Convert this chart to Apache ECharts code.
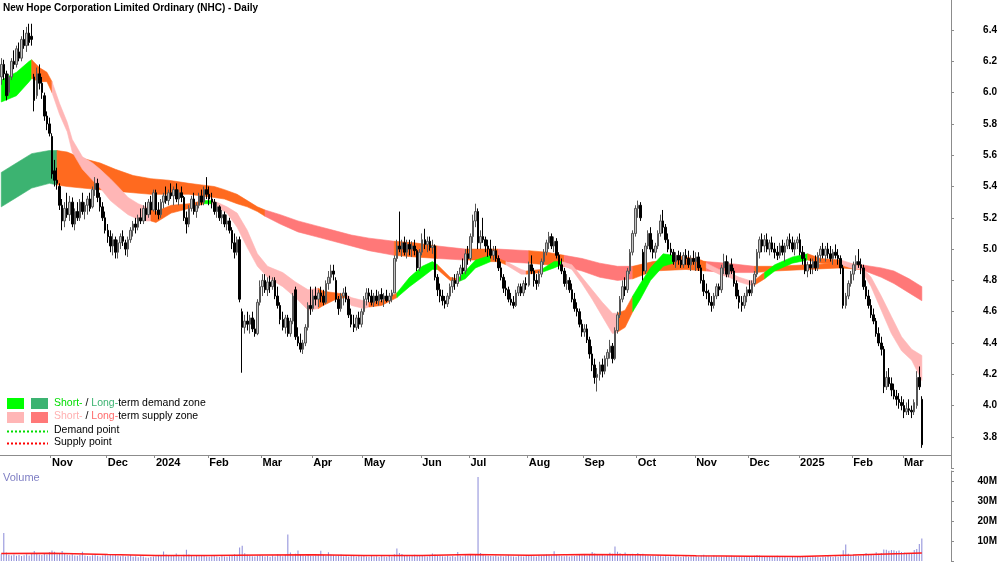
<!DOCTYPE html>
<html>
<head>
<meta charset="utf-8">
<script src="https://cdn.jsdelivr.net/npm/echarts/dist/echarts.min.js"></script>
<style>
html, body { margin: 0; padding: 0; background: #fff; }
#chart { width: 1000px; height: 562px; }
</style>
</head>
<body>
<div id="chart"></div>
<script>
// trading days per month, first (partial) month has no label
const months = [
  ['', 20], ['Nov', 22], ['Dec', 19], ['2024', 21], ['Feb', 21], ['Mar', 20], ['Apr', 20],
  ['May', 23], ['Jun', 19], ['Jul', 23], ['Aug', 22], ['Sep', 21], ['Oct', 23], ['Nov', 21],
  ['Dec', 20], ['2025', 21], ['Feb', 20], ['Mar', 8]
];
const padBars = 11;

// daily bars [open, high, low, close]
const bars = [
  // Oct 23
  [6.10,6.22,6.05,6.18],[6.18,6.21,6.08,6.12],[6.12,6.14,5.95,5.98],[6.00,6.12,5.98,6.10],[6.10,6.22,6.08,6.20],
  [6.20,6.27,6.15,6.18],[6.18,6.30,6.16,6.28],[6.26,6.32,6.20,6.22],[6.22,6.36,6.20,6.34],[6.34,6.40,6.28,6.30],
  [6.30,6.42,6.26,6.38],[6.38,6.44,6.30,6.32],[6.36,6.44,6.30,6.34],[6.10,6.12,5.88,5.95],[5.98,6.16,5.96,6.12],
  [6.12,6.18,6.02,6.06],[6.06,6.10,5.96,6.00],[5.98,6.00,5.82,5.85],[5.85,5.88,5.76,5.80],[5.80,5.84,5.72,5.74],
  // Nov
  [5.72,5.74,5.45,5.48],[5.50,5.57,5.40,5.44],[5.44,5.52,5.38,5.42],[5.40,5.42,5.25,5.28],[5.28,5.32,5.12,5.18],
  [5.18,5.30,5.14,5.26],[5.26,5.36,5.20,5.22],[5.22,5.34,5.18,5.30],[5.30,5.33,5.14,5.16],[5.16,5.26,5.12,5.24],
  [5.24,5.30,5.18,5.20],[5.20,5.32,5.18,5.30],[5.30,5.36,5.22,5.24],[5.24,5.30,5.19,5.28],[5.28,5.34,5.22,5.32],
  [5.32,5.36,5.24,5.26],[5.27,5.40,5.26,5.38],[5.38,5.46,5.34,5.42],[5.42,5.45,5.30,5.33],[5.33,5.36,5.24,5.27],
  [5.27,5.30,5.18,5.20],[5.20,5.24,5.10,5.12],
  // Dec
  [5.12,5.16,5.04,5.08],[5.08,5.12,4.98,5.02],[5.02,5.10,4.96,5.06],[5.06,5.08,4.94,4.98],[4.98,5.06,4.94,5.04],
  [5.04,5.10,5.00,5.08],[5.08,5.12,5.02,5.05],[5.04,5.06,4.96,5.00],[5.00,5.08,4.95,5.06],[5.06,5.14,5.04,5.12],
  [5.12,5.18,5.08,5.16],[5.16,5.20,5.10,5.14],[5.14,5.22,5.12,5.20],[5.20,5.26,5.16,5.18],[5.18,5.28,5.16,5.26],
  [5.26,5.30,5.18,5.22],[5.22,5.32,5.20,5.30],[5.30,5.34,5.22,5.25],[5.25,5.38,5.24,5.36],
  // Jan 24
  [5.36,5.38,5.22,5.25],[5.25,5.30,5.19,5.22],[5.22,5.32,5.20,5.30],[5.30,5.36,5.26,5.34],[5.34,5.40,5.29,5.31],
  [5.31,5.38,5.28,5.36],[5.36,5.42,5.32,5.34],[5.34,5.40,5.28,5.38],[5.38,5.42,5.30,5.32],[5.32,5.38,5.28,5.36],
  [5.36,5.40,5.30,5.33],[5.33,5.34,5.18,5.20],[5.20,5.24,5.10,5.16],[5.16,5.28,5.14,5.26],[5.26,5.34,5.24,5.32],
  [5.32,5.36,5.22,5.24],[5.24,5.30,5.20,5.28],[5.28,5.36,5.26,5.34],[5.34,5.38,5.28,5.30],[5.30,5.40,5.28,5.38],
  [5.38,5.46,5.32,5.35],
  // Feb
  [5.35,5.40,5.28,5.32],[5.32,5.36,5.26,5.30],[5.30,5.32,5.22,5.24],[5.24,5.30,5.20,5.27],[5.27,5.28,5.18,5.20],
  [5.20,5.25,5.16,5.22],[5.22,5.24,5.14,5.16],[5.16,5.22,5.12,5.18],[5.18,5.20,5.10,5.12],[5.12,5.14,5.00,5.04],
  [5.04,5.10,4.94,4.98],[4.98,5.08,4.96,5.06],[5.06,5.08,4.66,4.68],[4.60,4.62,4.21,4.50],[4.50,4.58,4.46,4.54],
  [4.54,4.60,4.48,4.52],[4.52,4.58,4.46,4.56],[4.56,4.60,4.47,4.49],[4.49,4.55,4.44,4.46],[4.46,4.68,4.45,4.66],
  [4.66,4.80,4.64,4.76],
  // Mar
  [4.76,4.84,4.70,4.80],[4.80,4.84,4.72,4.74],[4.74,4.82,4.70,4.79],[4.79,4.83,4.72,4.76],[4.76,4.82,4.74,4.80],
  [4.80,4.82,4.68,4.70],[4.70,4.76,4.62,4.64],[4.64,4.66,4.52,4.55],[4.55,4.60,4.48,4.50],[4.50,4.58,4.46,4.56],
  [4.56,4.58,4.44,4.46],[4.46,4.56,4.44,4.54],[4.54,4.72,4.52,4.70],[4.74,4.76,4.42,4.44],[4.44,4.50,4.38,4.40],
  [4.40,4.46,4.34,4.36],[4.36,4.42,4.33,4.40],[4.40,4.52,4.38,4.50],[4.50,4.66,4.48,4.64],[4.64,4.76,4.58,4.62],
  // Apr
  [4.62,4.74,4.60,4.70],[4.70,4.76,4.64,4.68],[4.68,4.74,4.63,4.72],[4.72,4.76,4.66,4.70],[4.70,4.74,4.64,4.66],
  [4.66,4.80,4.65,4.78],[4.78,4.86,4.74,4.82],[4.82,4.90,4.78,4.86],[4.86,4.90,4.80,4.84],[4.80,4.82,4.66,4.68],
  [4.68,4.70,4.58,4.62],[4.62,4.72,4.60,4.70],[4.70,4.75,4.64,4.72],[4.72,4.76,4.66,4.68],[4.68,4.70,4.56,4.58],
  [4.58,4.62,4.50,4.52],[4.52,4.58,4.47,4.50],[4.50,4.58,4.48,4.56],[4.56,4.60,4.49,4.52],[4.52,4.62,4.50,4.60],
  // May
  [4.60,4.70,4.58,4.68],[4.68,4.75,4.64,4.72],[4.72,4.75,4.66,4.70],[4.70,4.74,4.64,4.66],[4.66,4.72,4.63,4.70],
  [4.70,4.74,4.65,4.67],[4.67,4.73,4.64,4.71],[4.71,4.75,4.66,4.68],[4.68,4.72,4.63,4.70],[4.70,4.74,4.66,4.67],
  [4.67,4.72,4.65,4.70],[4.70,4.74,4.66,4.72],[4.72,4.96,4.72,4.94],[4.94,5.06,4.92,5.02],[5.02,5.24,4.98,5.00],
  [5.00,5.06,4.95,5.04],[5.04,5.08,4.96,4.98],[4.98,5.06,4.94,5.03],[5.03,5.06,4.96,5.00],[5.00,5.05,4.95,5.02],
  [5.02,5.06,4.96,4.99],[4.99,5.00,4.86,4.88],[4.88,5.00,4.86,4.98],
  // Jun
  [4.98,5.10,4.96,5.06],[5.06,5.13,5.00,5.03],[5.03,5.08,4.98,5.05],[5.05,5.08,4.99,5.01],[5.01,5.06,4.97,5.02],
  [5.02,5.03,4.80,4.82],[4.82,4.84,4.70,4.74],[4.74,4.78,4.66,4.70],[4.70,4.74,4.64,4.67],[4.67,4.70,4.62,4.65],
  [4.65,4.72,4.63,4.70],[4.70,4.78,4.68,4.76],[4.76,4.82,4.72,4.80],[4.80,4.84,4.74,4.78],[4.78,4.86,4.76,4.84],
  [4.84,4.90,4.80,4.88],[4.88,4.94,4.84,4.86],[4.86,5.00,4.84,4.97],[4.97,5.02,4.90,4.94],
  // Jul
  [4.94,5.10,4.92,5.08],[5.08,5.22,5.04,5.18],[5.18,5.29,5.14,5.24],[5.24,5.26,5.00,5.04],[5.04,5.12,5.00,5.08],
  [5.08,5.20,5.04,5.06],[5.06,5.08,4.98,5.02],[5.02,5.06,4.95,5.00],[5.00,5.06,4.94,4.96],[4.96,5.02,4.93,4.99],
  [4.99,5.02,4.92,4.94],[4.94,4.96,4.86,4.88],[4.88,4.92,4.80,4.82],[4.82,4.84,4.72,4.75],[4.75,4.80,4.70,4.74],
  [4.74,4.76,4.66,4.68],[4.68,4.72,4.64,4.66],[4.66,4.70,4.62,4.64],[4.64,4.74,4.63,4.72],[4.72,4.78,4.70,4.76],
  [4.76,4.78,4.70,4.72],[4.72,4.80,4.70,4.78],[4.78,4.82,4.74,4.77],
  // Aug
  [4.77,4.92,4.76,4.90],[4.90,4.96,4.84,4.86],[4.86,4.88,4.76,4.80],[4.80,4.84,4.74,4.78],[4.78,4.86,4.76,4.84],
  [4.84,4.94,4.82,4.92],[4.92,5.00,4.90,4.98],[4.98,5.06,4.96,5.04],[5.04,5.11,5.00,5.08],[5.08,5.10,5.00,5.02],
  [5.02,5.08,4.98,5.05],[5.05,5.07,4.94,4.96],[4.96,4.98,4.87,4.90],[4.90,4.94,4.84,4.86],[4.86,4.88,4.76,4.78],
  [4.78,4.84,4.74,4.80],[4.80,4.82,4.72,4.74],[4.74,4.78,4.66,4.68],[4.68,4.72,4.60,4.62],[4.62,4.66,4.57,4.60],
  [4.60,4.62,4.50,4.52],[4.52,4.55,4.44,4.47],
  // Sep
  [4.47,4.52,4.44,4.49],[4.49,4.52,4.40,4.42],[4.42,4.44,4.30,4.33],[4.33,4.38,4.22,4.26],[4.26,4.30,4.14,4.18],
  [4.18,4.24,4.09,4.20],[4.20,4.28,4.16,4.26],[4.26,4.30,4.18,4.22],[4.22,4.32,4.20,4.30],[4.30,4.36,4.25,4.34],
  [4.34,4.42,4.30,4.38],[4.38,4.40,4.27,4.30],[4.30,4.50,4.29,4.48],[4.48,4.60,4.46,4.58],[4.58,4.70,4.56,4.68],
  [4.68,4.80,4.66,4.76],[4.76,4.82,4.70,4.74],[4.74,4.88,4.72,4.86],[4.86,5.00,4.84,4.98],[4.98,5.12,4.96,5.10],
  [5.10,5.28,5.08,5.26],
  // Oct
  [5.26,5.31,5.20,5.28],[5.28,5.30,5.18,5.20],[4.98,5.00,4.80,4.86],[4.86,5.04,4.84,5.02],[5.02,5.12,5.00,5.10],
  [5.10,5.14,4.98,5.00],[5.00,5.06,4.94,4.98],[4.98,5.04,4.94,5.02],[5.02,5.12,5.00,5.10],[5.10,5.22,5.08,5.18],
  [5.18,5.25,5.10,5.14],[5.14,5.16,5.04,5.06],[5.06,5.10,4.98,5.00],[5.00,5.04,4.96,4.98],[4.98,5.00,4.90,4.92],
  [4.92,4.98,4.88,4.96],[4.96,4.99,4.90,4.93],[4.93,4.98,4.88,4.90],[4.90,4.98,4.88,4.96],[4.96,5.00,4.90,4.94],
  [4.94,4.99,4.88,4.90],[4.90,4.96,4.86,4.94],[4.94,4.99,4.90,4.92],
  // Nov
  [4.92,4.98,4.86,4.95],[4.95,4.98,4.86,4.88],[4.88,4.90,4.78,4.80],[4.80,4.84,4.70,4.73],[4.73,4.78,4.68,4.72],
  [4.72,4.74,4.64,4.66],[4.66,4.70,4.60,4.64],[4.64,4.72,4.62,4.70],[4.70,4.78,4.68,4.76],[4.76,4.78,4.70,4.74],
  [4.74,4.90,4.72,4.88],[4.88,4.97,4.84,4.92],[4.92,4.96,4.82,4.84],[4.84,4.92,4.82,4.90],[4.90,4.94,4.84,4.86],
  [4.86,4.88,4.76,4.78],[4.78,4.80,4.68,4.70],[4.70,4.74,4.62,4.66],[4.66,4.70,4.60,4.64],[4.64,4.72,4.62,4.70],
  [4.70,4.76,4.66,4.74],
  // Dec
  [4.74,4.80,4.70,4.72],[4.72,4.80,4.70,4.78],[4.78,4.86,4.76,4.84],[4.84,5.00,4.82,4.98],[4.98,5.08,4.94,5.06],
  [5.06,5.10,4.98,5.02],[5.02,5.09,4.98,5.06],[5.06,5.10,4.98,5.00],[5.00,5.06,4.96,5.04],[5.04,5.08,4.98,5.00],
  [5.00,5.04,4.94,4.98],[4.98,5.02,4.93,4.96],[4.96,5.04,4.94,5.02],[5.02,5.06,4.96,4.98],[4.98,5.04,4.92,5.02],
  [5.02,5.08,5.00,5.06],[5.06,5.10,5.00,5.04],[5.04,5.08,4.98,5.00],[5.00,5.06,4.96,5.04],[5.04,5.08,5.00,5.06],
  // Jan 25
  [5.06,5.10,4.96,4.98],[4.98,5.02,4.90,4.94],[4.94,4.98,4.84,4.86],[4.86,4.92,4.82,4.90],[4.90,4.94,4.84,4.88],
  [4.88,4.94,4.84,4.92],[4.92,4.96,4.86,4.88],[4.88,4.98,4.86,4.96],[4.96,5.02,4.92,5.00],[5.00,5.04,4.94,4.96],
  [4.96,5.02,4.92,5.00],[5.00,5.04,4.94,4.97],[4.97,5.02,4.92,4.94],[4.94,5.00,4.90,4.98],[4.98,5.03,4.94,4.96],
  [4.96,5.00,4.90,4.94],[4.94,4.96,4.84,4.88],[4.88,4.90,4.62,4.64],[4.64,4.72,4.62,4.70],[4.70,4.80,4.68,4.78],
  [4.78,4.86,4.76,4.84],
  // Feb
  [4.84,4.92,4.80,4.90],[4.90,4.96,4.86,4.92],[4.92,5.00,4.88,4.90],[4.90,4.94,4.84,4.88],[4.88,4.90,4.74,4.76],
  [4.76,4.80,4.68,4.70],[4.70,4.74,4.62,4.64],[4.64,4.68,4.56,4.58],[4.58,4.62,4.52,4.54],[4.54,4.56,4.44,4.46],
  [4.46,4.50,4.38,4.40],[4.40,4.44,4.32,4.36],[4.36,4.38,4.08,4.12],[4.12,4.22,4.10,4.18],[4.18,4.24,4.12,4.14],
  [4.14,4.18,4.06,4.10],[4.10,4.14,4.04,4.06],[4.06,4.10,4.00,4.04],[4.04,4.08,3.98,4.02],[4.02,4.06,3.97,4.00],
  // Mar
  [4.00,4.04,3.92,3.96],[3.96,4.02,3.94,3.98],[3.98,4.04,3.94,3.97],[3.97,4.00,3.92,3.96],[3.96,4.04,3.94,4.02],
  [4.00,4.22,3.98,4.18],[4.18,4.25,4.10,4.12],[4.04,4.06,3.73,3.75]
];

// daily volume, millions
const volume = [
  3.5,14,4.2,3.1,2.8,3.3,2.6,3.0,2.5,2.9,3.4,2.7,3.8,5.0,4.0,3.2,3.0,3.6,3.3,4.4,
  5.2,4.6,3.4,3.8,5.0,3.6,3.1,2.9,3.4,2.7,2.6,3.0,4.6,2.8,2.5,2.4,2.9,3.1,2.6,2.3,2.8,3.0,
  2.7,3.2,2.9,3.5,2.6,2.4,2.8,2.2,2.5,3.0,2.1,2.4,1.9,2.6,2.3,1.8,1.6,2.0,2.2,
  2.4,2.8,3.0,4.8,3.2,2.5,2.7,2.6,3.8,2.4,2.2,3.1,5.6,3.3,2.6,2.3,2.5,2.4,2.8,2.6,2.2,
  2.1,2.4,2.6,2.2,2.0,2.5,2.3,2.1,2.4,2.9,3.4,2.5,6.8,7.6,3.9,3.1,2.6,2.4,2.2,2.8,3.0,
  2.6,2.2,2.5,2.1,2.7,2.3,3.4,2.9,2.4,3.0,13.2,4.2,2.8,3.6,5.2,3.3,2.7,2.5,3.1,2.6,
  2.5,2.8,3.4,5.1,3.0,2.6,4.4,3.2,2.9,2.5,2.7,3.3,2.4,2.6,2.2,2.8,2.5,2.3,2.9,2.4,
  2.6,2.3,2.1,2.5,2.2,2.4,2.0,2.7,2.3,2.1,2.5,2.2,3.4,6.2,4.0,3.5,2.8,2.6,2.4,2.9,3.1,2.5,2.7,
  2.7,2.4,2.3,2.6,3.8,3.2,2.8,2.5,2.4,2.2,2.6,2.3,2.5,2.1,4.5,2.6,2.3,2.9,2.7,
  3.0,2.8,3.4,42,4.0,3.1,2.7,2.6,2.5,2.4,2.8,2.3,2.6,2.2,2.5,2.9,2.4,2.3,2.1,2.6,2.4,2.2,2.5,
  2.8,2.6,2.4,2.3,2.7,2.5,3.0,3.3,2.9,2.6,4.9,3.1,2.8,2.5,2.4,2.7,2.3,2.6,2.5,2.8,3.2,2.9,
  3.1,2.7,3.0,4.5,3.8,3.3,2.9,3.2,2.8,3.5,4.1,3.6,7.2,4.6,3.9,3.2,4.3,3.4,3.0,3.6,3.1,
  4.0,3.3,3.6,2.9,2.7,2.5,2.8,2.4,3.0,2.6,2.3,2.5,2.2,2.4,2.1,2.6,2.3,2.0,2.2,2.5,2.1,2.4,2.3,
  2.6,2.3,2.8,3.1,2.5,2.4,2.2,2.7,2.4,2.1,2.3,2.0,2.5,2.2,2.6,2.4,2.1,2.3,2.0,2.2,2.5,
  2.4,2.2,2.6,3.0,2.7,2.3,2.1,2.4,2.2,2.0,2.3,2.6,2.2,1.9,2.1,1.8,1.7,2.0,1.9,2.1,
  2.2,2.0,2.3,2.1,1.9,2.4,2.2,2.0,1.8,2.3,2.1,2.5,2.2,2.0,2.4,2.1,2.6,5.4,8.2,3.6,3.0,
  3.2,2.7,2.5,2.8,3.3,4.0,3.5,3.1,2.9,4.4,3.6,4.0,5.8,5.6,5.1,5.5,5.4,4.9,5.2,4.5,
  4.2,3.8,3.5,4.0,5.5,6.0,8.5,11.2
];

// volume average, read at bar indices
const volAvgX = [0, 20, 42, 61, 82, 103, 123, 143, 166, 185, 208, 230, 251, 274, 295, 315, 336, 356, 363];
const volAvg = [3.8, 3.9, 3.2, 2.7, 2.8, 3.0, 3.1, 2.7, 2.8, 3.2, 2.9, 3.3, 3.1, 2.6, 2.4, 2.3, 3.0, 3.7, 4.0];

// long-term zone edges read at bar indices
const longX = [0,6,12,19,22,26,32,39,45,52,59,66,74,79,84,88,93,97,101,104,110,117,124,131,138,145,155,163,172,183,190,196,208,215,222,229,236,243,249,257,270,278,286,297,305,318,331,339,347,352,358,363];
const longTop = [5.49,5.55,5.61,5.63,5.63,5.62,5.58,5.55,5.51,5.47,5.45,5.44,5.42,5.41,5.40,5.38,5.35,5.31,5.27,5.25,5.22,5.18,5.15,5.12,5.09,5.07,5.05,5.04,5.02,5.00,5.00,5.00,4.99,4.98,4.96,4.94,4.91,4.89,4.89,4.92,4.94,4.92,4.91,4.89,4.89,4.90,4.91,4.90,4.88,4.86,4.81,4.76];
const longBot = [5.27,5.33,5.39,5.42,5.41,5.40,5.39,5.38,5.37,5.36,5.35,5.35,5.35,5.34,5.33,5.32,5.29,5.27,5.24,5.21,5.16,5.11,5.08,5.05,5.02,4.99,4.96,4.95,4.94,4.93,4.93,4.92,4.91,4.90,4.89,4.86,4.82,4.80,4.81,4.86,4.87,4.86,4.85,4.85,4.86,4.87,4.88,4.87,4.82,4.78,4.72,4.67];
const longZones = [[0,22,'LD'],[22,104,'N'],[104,155,'LS'],[155,172,'N'],[172,183,'LS'],[183,196,'N'],[196,208,'LS'],[208,222,'N'],[222,249,'LS'],[249,278,'N'],[278,297,'LS'],[297,339,'N'],[339,363,'LS']];

// short-term zone edges read at bar indices
const shortX = [0,6,11,12,15,18,20,23,26,28,32,36,39,43,46,50,54,57,59,61,67,74,80,83,85,89,93,97,101,105,111,116,121,125,127,132,136,138,143,145,150,156,161,166,170,172,177,180,183,187,193,196,199,205,207,213,218,221,225,229,233,237,241,243,246,249,252,256,261,265,270,276,278,283,287,291,295,297,300,301,305,312,318,323,331,335,339,343,347,351,355,359,363];
const shortTop = [6.08,6.13,6.20,6.21,6.16,6.13,6.07,5.93,5.81,5.70,5.59,5.55,5.51,5.45,5.40,5.33,5.29,5.27,5.26,5.24,5.28,5.29,5.31,5.31,5.30,5.27,5.23,5.12,4.97,4.89,4.85,4.79,4.74,4.75,4.73,4.72,4.71,4.69,4.67,4.66,4.67,4.72,4.82,4.89,4.92,4.90,4.82,4.81,4.86,4.93,4.96,4.94,4.92,4.87,4.86,4.87,4.92,4.92,4.90,4.82,4.74,4.66,4.59,4.59,4.61,4.70,4.78,4.88,4.97,4.96,4.95,4.93,4.91,4.87,4.85,4.82,4.80,4.80,4.84,4.85,4.90,4.95,4.97,4.94,4.93,4.91,4.89,4.82,4.70,4.57,4.44,4.36,4.32];
const shortBot = [5.94,5.98,6.07,6.09,6.07,6.07,6.00,5.86,5.75,5.62,5.51,5.44,5.39,5.31,5.27,5.22,5.19,5.18,5.18,5.17,5.23,5.26,5.29,5.29,5.27,5.23,5.14,5.01,4.89,4.82,4.76,4.69,4.61,4.62,4.64,4.68,4.69,4.64,4.62,4.63,4.64,4.69,4.76,4.82,4.87,4.87,4.80,4.79,4.81,4.88,4.92,4.92,4.90,4.84,4.84,4.85,4.88,4.90,4.87,4.78,4.68,4.57,4.46,4.47,4.50,4.60,4.68,4.80,4.89,4.91,4.90,4.89,4.88,4.84,4.82,4.79,4.77,4.77,4.80,4.81,4.86,4.91,4.93,4.91,4.90,4.88,4.87,4.76,4.61,4.46,4.35,4.29,4.16];
const shortZones = [[0,12,'SD'],[12,20,'N'],[20,59,'SS'],[59,80,'N'],[80,83,'SD'],[83,125,'SS'],[125,136,'N'],[136,145,'SS'],[145,156,'N'],[156,172,'SD'],[172,180,'N'],[180,193,'SD'],[193,199,'N'],[199,207,'SS'],[207,213,'N'],[213,221,'SD'],[221,243,'SS'],[243,249,'N'],[249,265,'SD'],[265,278,'N'],[278,297,'SS'],[297,301,'N'],[301,318,'SD'],[318,331,'N'],[331,363,'SS']];

const zoneColors = { SD: '#00ff00', LD: '#3cb371', SS: '#ffb6b6', LS: '#ff7878', N: '#ff6a1f' };

const categories = [];
const labels = [];
months.forEach(function (m) {
  for (let d = 0; d < m[1]; d++) {
    categories.push('b' + categories.length);
    labels.push(d === 0 ? m[0] : '');
  }
});
for (let k = 0; k < padBars; k++) {
  categories.push('b' + categories.length);
  labels.push('');
}
const isMonth = function (i) { return labels[i] !== ''; };

const FONT = '"Liberation Sans", Arial, sans-serif';
const AXIS_GREY = '#8c8c8c';

function ribbon(xs, tops, bots, zones) {
  return {
    type: 'custom',
    xAxisIndex: 0,
    yAxisIndex: 0,
    silent: true,
    data: zones.map(function (z) { return [z[0], z[1], tops[xs.indexOf(z[0])]]; }),
    encode: { x: [0, 1], y: 2 },
    renderItem: function (params, api) {
      const z = zones[params.dataIndex];
      const pts = [];
      for (let k = 0; k < xs.length; k++) {
        if (xs[k] >= z[0] && xs[k] <= z[1]) pts.push(api.coord([xs[k], tops[k]]));
      }
      for (let k = xs.length - 1; k >= 0; k--) {
        if (xs[k] >= z[0] && xs[k] <= z[1]) pts.push(api.coord([xs[k], bots[k]]));
      }
      const c = zoneColors[z[2]];
      return { type: 'polygon', shape: { points: pts }, style: { fill: c, stroke: c, lineWidth: 0.6 } };
    }
  };
}

const chart = echarts.init(document.getElementById('chart'));

const option = {
  animation: false,
  backgroundColor: '#ffffff',
  textStyle: { fontFamily: FONT },
  grid: [
    { left: 0, right: 49, top: -1.3, height: 469.5, containLabel: false, outerBoundsMode: 'none' },
    { left: 0, right: 49, top: 471, height: 90, containLabel: false, outerBoundsMode: 'none' }
  ],
  xAxis: [
    {
      type: 'category', gridIndex: 0, data: categories, boundaryGap: true, offset: -13.2,
      axisLine: { show: true, lineStyle: { color: AXIS_GREY, width: 1 } },
      axisTick: { show: true, interval: isMonth, length: 3, lineStyle: { color: AXIS_GREY } },
      axisLabel: {
        interval: isMonth, formatter: function (v, i) { return labels[i]; },
        align: 'left', margin: 2, color: '#000', fontWeight: 'bold', fontSize: 11, fontFamily: FONT
      },
      splitLine: { show: false }
    },
    {
      type: 'category', gridIndex: 1, data: categories, boundaryGap: true,
      axisLine: { show: false }, axisTick: { show: false }, axisLabel: { show: false }, splitLine: { show: false }
    }
  ],
  yAxis: [
    {
      type: 'value', gridIndex: 0, position: 'right', min: 3.6, max: 6.6, interval: 0.2,
      axisLine: { show: true, lineStyle: { color: AXIS_GREY } },
      axisTick: { show: true, length: 3, lineStyle: { color: AXIS_GREY } },
      axisLabel: {
        formatter: function (v) { return (v < 3.7 || v > 6.5) ? '' : v.toFixed(1); },
        align: 'right', margin: 46, color: '#000', fontWeight: 'bold', fontSize: 10, fontFamily: FONT
      },
      splitLine: { show: false }
    },
    {
      type: 'value', gridIndex: 1, position: 'right', min: 0, max: 45, interval: 10,
      axisLine: { show: true, lineStyle: { color: AXIS_GREY } },
      axisTick: { show: true, length: 3, lineStyle: { color: AXIS_GREY } },
      axisLabel: {
        formatter: function (v) { return (v > 0 && v % 10 === 0) ? v + 'M' : ''; },
        align: 'right', margin: 46, color: '#000', fontWeight: 'bold', fontSize: 10, fontFamily: FONT
      },
      splitLine: { show: false }
    }
  ],
  series: [
    ribbon(longX, longTop, longBot, longZones),
    ribbon(shortX, shortTop, shortBot, shortZones),
    {
      type: 'candlestick', xAxisIndex: 0, yAxisIndex: 0, silent: true,
      data: bars.map(function (b) { return [b[0], b[3], b[2], b[1]]; }),
      barWidth: 2,
      itemStyle: { color: '#c4c4c4', color0: '#000000', borderColor: '#555555', borderColor0: '#000000', borderWidth: 1 }
    },
    {
      type: 'bar', xAxisIndex: 1, yAxisIndex: 1, silent: true,
      data: volume, barWidth: 1,
      itemStyle: { color: '#8a8ad8' }
    },
    {
      type: 'line', xAxisIndex: 1, yAxisIndex: 1, silent: true,
      data: volAvgX.map(function (x, k) { return [x, volAvg[k]]; }),
      symbol: 'none', lineStyle: { color: '#ff1a1a', width: 1.5 }
    }
  ],
  graphic: [
    { type: 'text', left: 3, top: 3, style: { text: 'New Hope Corporation Limited Ordinary (NHC) - Daily', fill: '#000', font: 'bold 10px ' + FONT } },
    { type: 'rect', left: 7, top: 398, shape: { width: 17, height: 11 }, style: { fill: zoneColors.SD } },
    { type: 'rect', left: 31, top: 398, shape: { width: 17, height: 11 }, style: { fill: zoneColors.LD } },
    { type: 'rect', left: 7, top: 412, shape: { width: 17, height: 11 }, style: { fill: zoneColors.SS } },
    { type: 'rect', left: 31, top: 412, shape: { width: 17, height: 11 }, style: { fill: zoneColors.LS } },
    { type: 'line', shape: { x1: 7, y1: 431.5, x2: 48, y2: 431.5 }, style: { stroke: '#00dd00', lineWidth: 2, lineDash: [2, 2] } },
    { type: 'line', shape: { x1: 7, y1: 443.5, x2: 48, y2: 443.5 }, style: { stroke: '#ff0000', lineWidth: 2, lineDash: [2, 2] } },
    {
      type: 'text', left: 54, top: 398,
      style: { text: '{a|Short-} / {b|Long-}term demand zone', fill: '#000', font: '10.5px ' + FONT,
        rich: { a: { fill: '#00dd00', font: '10.5px ' + FONT }, b: { fill: '#3cb371', font: '10.5px ' + FONT } } }
    },
    {
      type: 'text', left: 54, top: 411,
      style: { text: '{a|Short-} / {b|Long-}term supply zone', fill: '#000', font: '10.5px ' + FONT,
        rich: { a: { fill: '#ffb0b0', font: '10.5px ' + FONT }, b: { fill: '#ff6b6b', font: '10.5px ' + FONT } } }
    },
    { type: 'text', left: 54, top: 425, style: { text: 'Demand point', fill: '#000', font: '10.5px ' + FONT } },
    { type: 'text', left: 54, top: 437, style: { text: 'Supply point', fill: '#000', font: '10.5px ' + FONT } },
    { type: 'text', left: 3, top: 472, style: { text: 'Volume', fill: '#7f7fc4', font: '11px ' + FONT } }
  ]
};

chart.setOption(option);
</script>
</body>
</html>
